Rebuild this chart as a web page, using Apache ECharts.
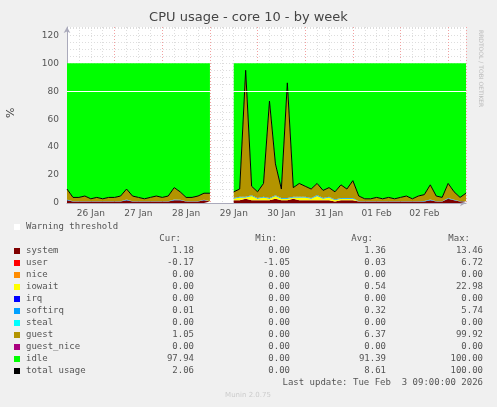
<!DOCTYPE html>
<html style="height: 100%">
<head>
<meta charset="utf-8">
<script src="https://cdn.jsdelivr.net/npm/echarts@6/dist/echarts.min.js"></script>
</head>
<body style="height: 100%; margin: 0; background: #f0f0f0">
<div id="container" style="width: 497px; height: 407px"></div>
<script type="text/javascript">
// samples every 3 hours from 26 Jan 00:00, null = no data
var startTime = Date.UTC(2026, 0, 26, 0, 0);
var step = 3 * 3600 * 1000;
var N = null;
var system = [2,1,1,1,1,1,1,1,1,1,2,1,1,1,1,1,1,1,2,2,1,1,1,2, 1,N,N,N,
  2,2,3,2,2,2,2,3,2,2,3,2, 2,2,2,2,2,1,2,2, 2,1,1,1,1,1,1,1, 1,1,1,1,1,2,1,1, 3,2,1,1];
var iowait = [0,0,0,0,0,0,0,0,0,0,0,0,0,0,0,0,0,0,0,0,0,0,0,0, 0,N,N,N,
  1,2,1,3,1,2,1,2,1,1,1,2, 2,1,3,1,2,1,1,1, 1,0,0,0,0,0,0,0, 0,0,0,0,0,0,0,0, 0,0,0,0];
var softirq = [0.5,0.3,0.3,0.3,0.3,0.3,0.3,0.3,0.3,0.3,0.5,0.3,0.3,0.3,0.3,0.3,0.3,0.3,0.5,0.4,0.3,0.3,0.3,0.4, 0.3,N,N,N,
  0.5,0.5,0.5,0.5,0.5,0.5,0.5,0.5,0.5,0.5,0.5,0.5, 0.5,0.5,0.8,0.5,0.5,0.5,0.5,0.5, 0.5,0.3,0.3,0.3,0.3,0.3,0.3,0.3, 0.3,0.3,0.3,0.3,0.4,0.5,0.3,0.3, 0.5,0.4,0.3,0.3];
var guest = [7.5,2.7,2.7,3.7,1.7,2.7,1.7,2.7,2.7,3.7,7.5,3.7,2.7,1.7,2.7,3.7,2.7,3.7,8.5,5.6,2.7,2.7,3.7,4.6, 5.7,N,N,N,
  4.5,5.5,90.5,6.5,4.5,9.5,69.5,22.5,6.5,82.5,6.5,9.5, 7.5,6.5,8.2,5.5,6.5,5.5,9.5,6.5, 12.5,3.7,1.7,1.7,2.7,1.7,2.7,1.7, 2.7,3.7,1.7,3.7,4.6,10.5,3.7,2.7, 10.5,5.6,2.7,5.7];
var yTicks = [0, 20, 40, 60, 80, 100, 120];
var dayLabels = ['26 Jan', '27 Jan', '28 Jan', '29 Jan', '30 Jan', '31 Jan', '01 Feb', '02 Feb'];
var warning = 80;

var legendRows = [
  ['system', '#7f0000', '1.18', '0.00', '1.36', '13.46'],
  ['user', '#ff0000', '-0.17', '-1.05', '0.03', '6.72'],
  ['nice', '#ff8c00', '0.00', '0.00', '0.00', '0.00'],
  ['iowait', '#ffff00', '0.00', '0.00', '0.54', '22.98'],
  ['irq', '#0000ff', '0.00', '0.00', '0.00', '0.00'],
  ['softirq', '#00a0ff', '0.01', '0.00', '0.32', '5.74'],
  ['steal', '#00ffff', '0.00', '0.00', '0.00', '0.00'],
  ['guest', '#b39400', '1.05', '0.00', '6.37', '99.92'],
  ['guest_nice', '#aa007f', '0.00', '0.00', '0.00', '0.00'],
  ['idle', '#00ff00', '97.94', '0.00', '91.39', '100.00'],
  ['total usage', '#000000', '2.06', '0.00', '8.61', '100.00']
];

function pts(arr) {
  return arr.map(function (v, i) { return [startTime + i * step, v]; });
}
var total = system.map(function (v, i) {
  return v == null ? null : +(v + iowait[i] + softirq[i] + guest[i]).toFixed(2);
});
var idle = total.map(function (v) { return v == null ? null : +(100 - v).toFixed(2); });
var zero = system.map(function (v) { return v == null ? null : 0; });

var series = [];
function area(name, color, arr) {
  series.push({
    name: name, type: 'line', stack: 'cpu', data: pts(arr), symbol: 'none',
    lineStyle: { width: 0 }, areaStyle: { color: color, opacity: 1 }, itemStyle: { color: color },
    xAxisIndex: 0, yAxisIndex: 0, z: 3
  });
}
area('system', '#7f0000', system);
area('user', '#ff0000', zero);
area('nice', '#ff8c00', zero);
area('iowait', '#ffff00', iowait);
area('irq', '#0000ff', zero);
area('softirq', '#00a0ff', softirq);
area('steal', '#00ffff', zero);
area('guest', '#b39400', guest);
area('guest_nice', '#aa007f', zero);
area('idle', '#00ff00', idle);
series[series.length - 1].markLine = {
  silent: true, symbol: 'none', label: { show: false },
  lineStyle: { color: '#ffffff', width: 1, type: 'solid' }, data: [{ yAxis: warning }]
};
series.push({
  name: 'total usage', type: 'line', data: pts(total), symbol: 'none',
  lineStyle: { color: '#000', width: 1 }, z: 4
});

var endTime = Date.UTC(2026, 1, 3, 9, 0);
var day = 24 * 3600 * 1000;
var ymax = 126;

var graphic = [
  { type: 'text', left: 'center', top: 11, style: { text: 'CPU usage - core 10 - by week', font: '13px "DejaVu Sans"', fill: '#444' } },
  { type: 'text', x: 6, y: 118, rotation: Math.PI / 2, style: { text: '%', font: '11px "DejaVu Sans"', fill: '#444' } },
  { type: 'text', x: 484, y: 30, rotation: -Math.PI / 2, style: { text: 'RRDTOOL / TOBI OETIKER', font: '6px "DejaVu Sans"', fill: '#bbb' } },
  { type: 'rect', shape: { x: 14, y: 224, width: 6, height: 6 }, style: { fill: '#fff' } },
  { type: 'text', x: 26, y: 222, style: { text: 'Warning threshold', font: '9px "DejaVu Sans Mono"', fill: '#555' } },
  { type: 'text', x: 181, y: 234, style: { text: 'Cur:', font: '9px "DejaVu Sans Mono"', fill: '#555', align: 'right' } },
  { type: 'text', x: 277, y: 234, style: { text: 'Min:', font: '9px "DejaVu Sans Mono"', fill: '#555', align: 'right' } },
  { type: 'text', x: 373, y: 234, style: { text: 'Avg:', font: '9px "DejaVu Sans Mono"', fill: '#555', align: 'right' } },
  { type: 'text', x: 470, y: 234, style: { text: 'Max:', font: '9px "DejaVu Sans Mono"', fill: '#555', align: 'right' } },
  { type: 'text', x: 483, y: 378, style: { text: 'Last update: Tue Feb  3 09:00:00 2026', font: '9px "DejaVu Sans Mono"', fill: '#555', align: 'right' } },
  { type: 'text', x: 248, y: 392, style: { text: 'Munin 2.0.75', font: '7px "DejaVu Sans"', fill: '#ccc', align: 'center' } }
];
legendRows.forEach(function (r, i) {
  var y = 246 + i * 12;
  graphic.push({ type: 'rect', shape: { x: 14, y: y + 2, width: 6, height: 6 }, style: { fill: r[1] } });
  graphic.push({ type: 'text', x: 26, y: y, style: { text: r[0], font: '9px "DejaVu Sans Mono"', fill: '#555' } });
  [194, 290, 386, 483].forEach(function (x, j) {
    graphic.push({ type: 'text', x: x, y: y, style: { text: r[2 + j], font: '9px "DejaVu Sans Mono"', fill: '#555', align: 'right' } });
  });
});

var dom = document.getElementById('container');
var myChart = echarts.init(dom);
var option = {
  animation: false,
  backgroundColor: '#f0f0f0',
  grid: { left: 67, right: 31, top: 27, bottom: 204, backgroundColor: '#fff', show: true, borderWidth: 0 },
  xAxis: [
    {
      // data axis
      type: 'time', min: startTime, max: endTime,
      axisLine: { lineStyle: { color: '#aab' }, symbol: ['none', 'arrow'], symbolSize: [5, 6] },
      axisTick: { show: false }, axisLabel: { show: false }, splitLine: { show: false }
    },
    {
      // 6-hour minor grid + day labels at noon
      type: 'value', min: startTime, max: endTime, interval: 6 * 3600 * 1000, position: 'bottom',
      axisLine: { show: false }, axisTick: { show: false },
      axisLabel: {
        color: '#555', fontSize: 9, fontFamily: 'DejaVu Sans', margin: 6, hideOverlap: false,
        showMinLabel: true, showMaxLabel: false,
        formatter: function (v) {
          var k = Math.round((v - startTime) / (6 * 3600 * 1000));
          if (k % 4 !== 2) return '';
          return dayLabels[(k - 2) / 4] || '';
        }
      },
      splitLine: { show: true, lineStyle: { color: '#ddd', type: [1, 2] } }
    },
    {
      type: 'value', min: startTime, max: endTime, interval: day, position: 'bottom',
      axisLine: { show: false }, axisTick: { show: false }, axisLabel: { show: false },
      splitLine: { show: true, lineStyle: { color: '#f2a0a0', type: [1, 2] } }
    }
  ],
  yAxis: [
    {
      type: 'value', min: 0, max: ymax, interval: 20,
      axisLine: { show: true, lineStyle: { color: '#aab' }, symbol: ['none', 'arrow'], symbolSize: [5, 6] },
      axisTick: { show: false },
      axisLabel: { color: '#555', fontSize: 9, fontFamily: 'DejaVu Sans', margin: 8, showMaxLabel: false,
        formatter: function (v) { return yTicks.indexOf(v) >= 0 ? String(v) : ''; } },
      splitLine: { show: true, lineStyle: { color: '#f2a0a0', type: [1, 2] } }
    },
    {
      type: 'value', min: 0, max: ymax, interval: 5, position: 'left',
      axisLine: { show: false }, axisTick: { show: false }, axisLabel: { show: false },
      splitLine: { show: true, lineStyle: { color: '#ddd', type: [1, 2] } }
    }
  ],
  series: series,
  graphic: graphic
};
myChart.setOption(option, true);
</script>
</body>
</html>
